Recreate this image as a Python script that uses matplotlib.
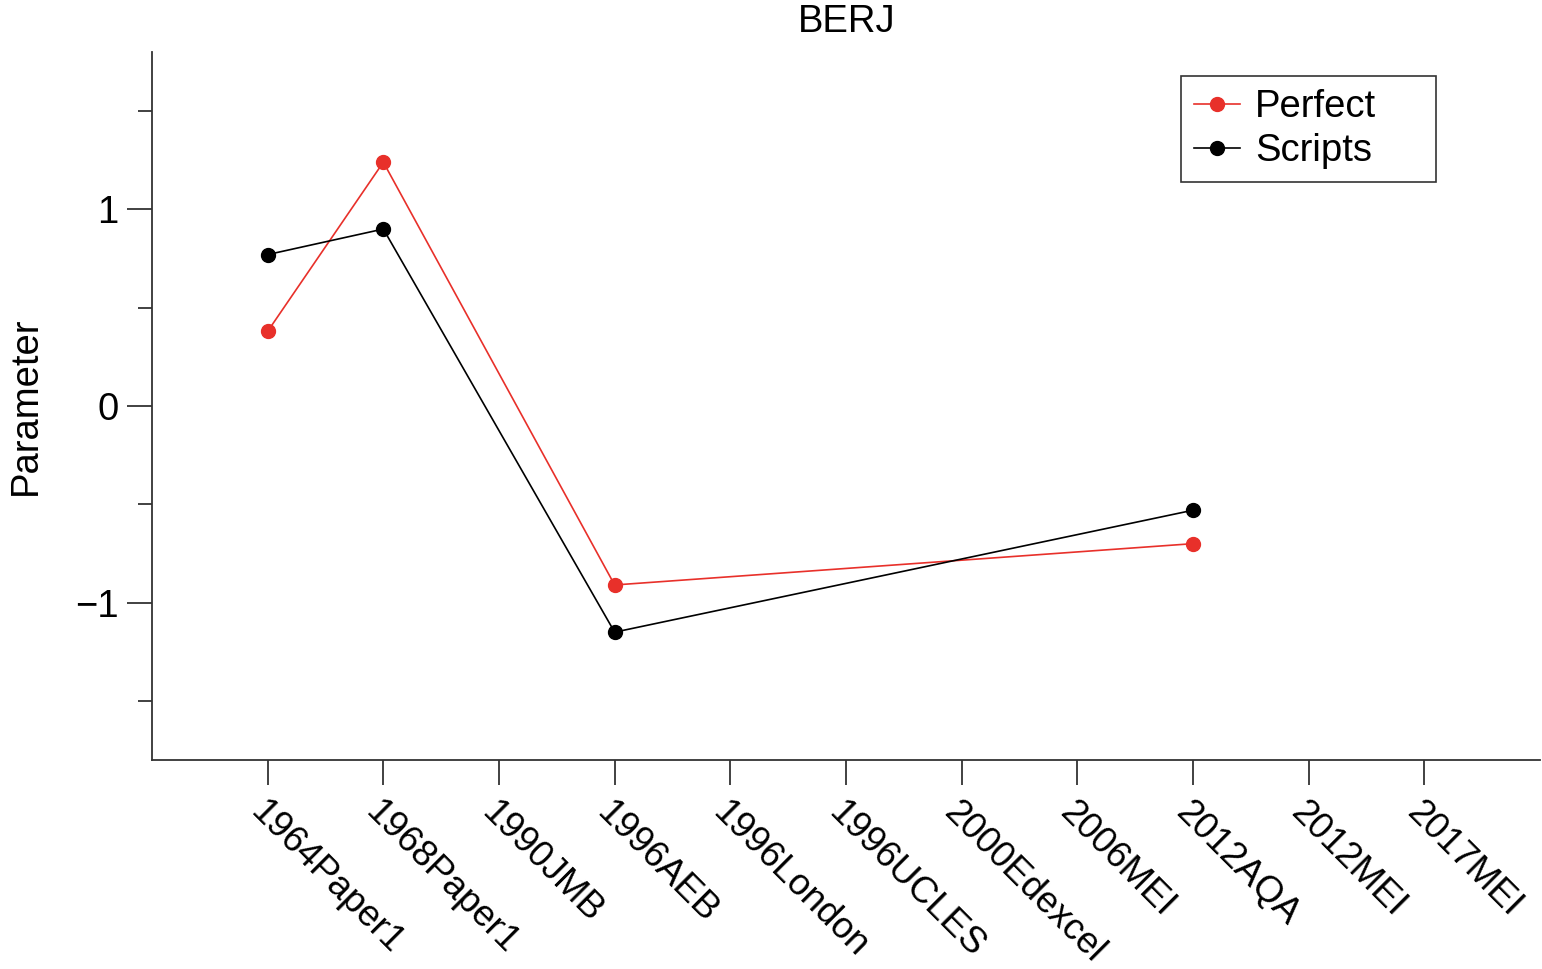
import numpy as np
import matplotlib
matplotlib.use("Agg")
import matplotlib.pyplot as plt
from matplotlib.ticker import MultipleLocator

plt.rcParams['font.family'] = ['Liberation Sans', 'DejaVu Sans']

categories = ["1964Paper1", "1968Paper1", "1990JMB", "1996AEB", "1996London",
              "1996UCLES", "2000Edexcel", "2006MEI", "2012AQA", "2012MEI", "2017MEI"]
perfect = [0.38, 1.24, np.nan, -0.91, np.nan, np.nan, np.nan, np.nan, -0.70, np.nan, np.nan]
scripts = [0.77, 0.90, np.nan, -1.15, np.nan, np.nan, np.nan, np.nan, -0.53, np.nan, np.nan]

FS = 27.5

fig = plt.figure(figsize=(15.42, 9.69), dpi=100)
ax = fig.add_axes([0.0986, 0.2157, 0.9, 0.7306])

x = np.arange(len(categories))

def plot_series(vals, color, label):
    v = np.asarray(vals, dtype=float)
    m = ~np.isnan(v)
    ax.plot(x[m], v[m], color=color, lw=1.2, marker='o', markersize=10, label=label)

plot_series(perfect, '#E8302A', 'Perfect')
plot_series(scripts, 'black', 'Scripts')

ax.set_xlim(-1, 11)
ax.set_ylim(-1.8, 1.8)
ax.set_xticks(x)
ax.set_xticklabels(categories, rotation=-45, ha='left', va='top',
                   rotation_mode='anchor', fontsize=26.5)

ax.yaxis.set_minor_locator(MultipleLocator(0.5))
ax.set_yticks([-1, 0, 1])
ax.set_yticklabels(['\u22121', '0', '1'], fontsize=FS)

for s in ['top', 'right']:
    ax.spines[s].set_visible(False)
for s in ['left', 'bottom']:
    ax.spines[s].set_color('#333333')
    ax.spines[s].set_linewidth(1.3)

ax.tick_params(axis='both', which='major', direction='out', length=18, width=1.3,
               color='#333333', pad=6)
ax.tick_params(axis='y', which='minor', direction='out', length=10, width=1.3,
               color='#333333')
ax.tick_params(axis='x', which='major', pad=7)

ax.set_ylabel('Parameter', fontsize=FS)
ax.yaxis.set_label_coords(-0.078, 0.5)
fig.text(0.549, 0.977, 'BERJ', ha='center', va='center', fontsize=FS)

leg = ax.legend(loc='upper left', bbox_to_anchor=(0.7413, 0.9661, 0.1838, 0.0),
                mode='expand', fontsize=FS, frameon=True, fancybox=False,
                borderpad=0.35, handlelength=1.2, handletextpad=0.4,
                labelspacing=0.2, borderaxespad=0)
leg.get_frame().set_edgecolor('black')
leg.get_frame().set_linewidth(1.2)

fig.savefig('out.png', dpi=100)
